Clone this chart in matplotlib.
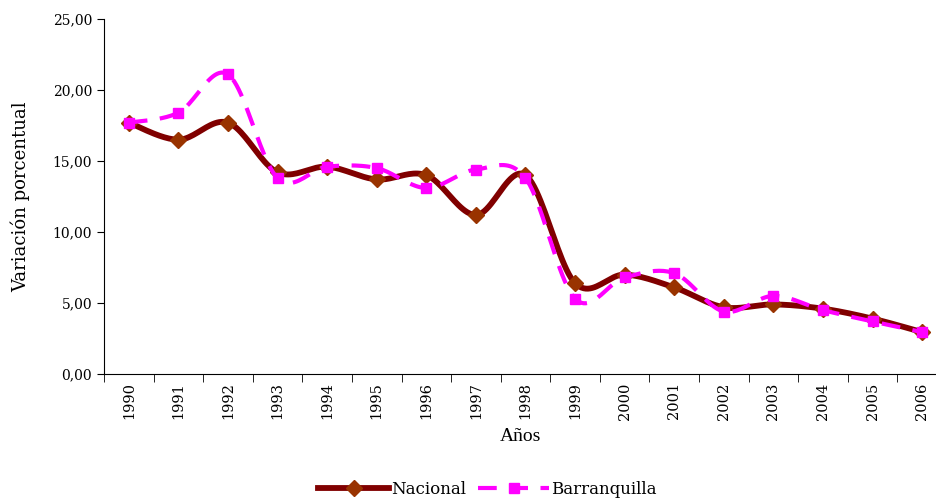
import matplotlib.pyplot as plt
import numpy as np

years = ['1990', '1991', '1992', '1993', '1994', '1995', '1996', '1997', '1998',
         '1999', '2000', '2001', '2002', '2003', '2004', '2005', '2006']
nacional = [17.7, 16.5, 17.7, 14.2, 14.6, 13.7, 14.0, 11.2, 14.0,
            6.4, 7.0, 6.1, 4.7, 4.9, 4.6, 3.9, 2.95]
barranquilla = [17.7, 18.4, 21.1, 13.8, 14.6, 14.5, 13.1, 14.4, 13.8,
                5.3, 6.8, 7.1, 4.4, 5.5, 4.5, 3.7, 2.95]


def smooth(x, y, n=24):
    # Catmull-Rom curve through the points (like Excel's smoothed line)
    x = np.asarray(x, float)
    y = np.asarray(y, float)
    px = np.concatenate([[x[0]], x, [x[-1]]])
    py = np.concatenate([[y[0]], y, [y[-1]]])
    xs, ys = [], []
    t = np.linspace(0, 1, n)
    for i in range(1, len(px) - 2):
        for p, out in ((px, xs), (py, ys)):
            p0, p1, p2, p3 = p[i - 1], p[i], p[i + 1], p[i + 2]
            out.extend(0.5 * ((2 * p1) + (-p0 + p2) * t
                              + (2 * p0 - 5 * p1 + 4 * p2 - p3) * t ** 2
                              + (-p0 + 3 * p1 - 3 * p2 + p3) * t ** 3))
    return np.array(xs), np.array(ys)


x = np.arange(len(years))

fig = plt.figure(figsize=(9.37, 5), dpi=100)
ax = fig.add_axes([0.111, 0.252, 0.889, 0.71])

sx, sy = smooth(x, nacional)
ax.plot(sx, sy, color='#800000', lw=4.2, solid_capstyle='round', zorder=2)
ax.plot(x, nacional, ls='none', marker='D', ms=8.5, color='#993300', zorder=3)

bx, by = smooth(x, barranquilla)
ax.plot(bx, by, color='#ff00ff', lw=3.0, dashes=(4.5, 3), zorder=4)
ax.plot(x, barranquilla, ls='none', marker='s', ms=6.5, color='#ff00ff', zorder=5)

ax.set_yticks(np.arange(0, 26, 5))
ax.yaxis.set_major_formatter(plt.FuncFormatter(lambda v, p: ('%.2f' % v).replace('.', ',')))
ax.set_xticks(x)
ax.set_xticklabels(years, rotation=90, family='DejaVu Serif', fontsize=10.5)
ax.set_xticks(np.arange(-0.5, 16.6, 1), minor=True)
ax.set_xlim(-0.5, 16.3)
ax.set_ylim(0, 25)
ax.tick_params(axis='x', which='major', length=0, pad=6)
ax.tick_params(axis='x', which='minor', length=6, direction='out')
ax.tick_params(axis='y', length=5, labelsize=10)
for lab in ax.get_yticklabels():
    lab.set_family('DejaVu Serif')

ax.spines['top'].set_visible(False)
ax.spines['right'].set_visible(False)

ax.set_ylabel('Variación porcentual', family='DejaVu Serif', fontsize=13, labelpad=16)
ax.set_xlabel('Años', family='Liberation Serif', fontsize=14, labelpad=6)

h1, = ax.plot([], [], color='#800000', lw=4.2, marker='D', ms=8.5, mfc='#993300', mec='#993300')
h2, = ax.plot([], [], color='#ff00ff', lw=3.0, dashes=(4.5, 3), marker='s', ms=6.5)
fig.legend([h1, h2], ['Nacional', 'Barranquilla'], loc='lower center',
           bbox_to_anchor=(0.52, -0.025), ncol=2, frameon=False, handlelength=4.3,
           columnspacing=0.7, handletextpad=0.1,
           prop={'family': 'DejaVu Serif', 'size': 12})

fig.savefig('out.png', dpi=100)
